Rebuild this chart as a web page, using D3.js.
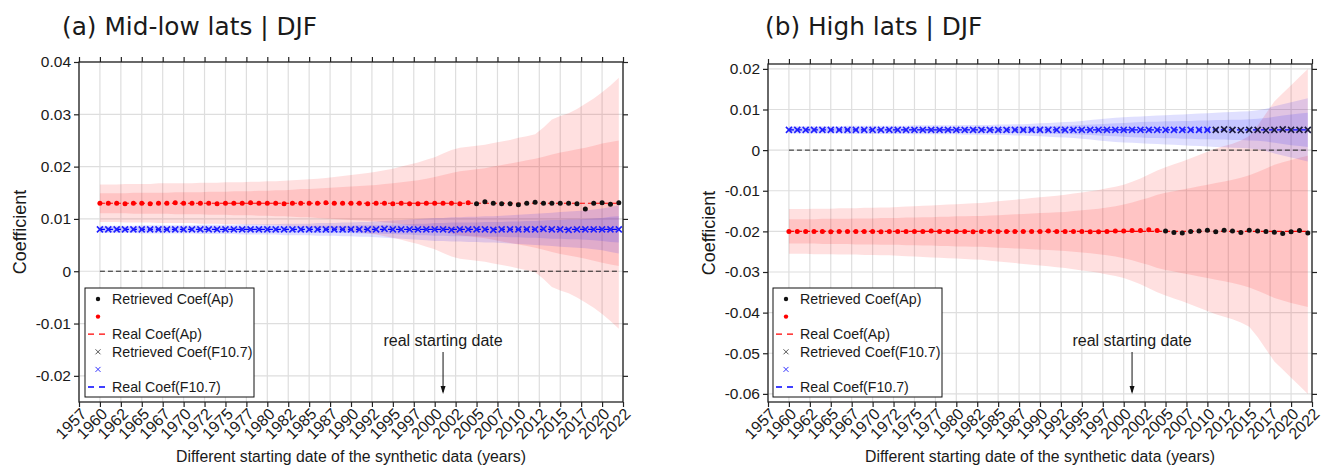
<!DOCTYPE html>
<html>
<head>
<meta charset="utf-8">
<script src="https://cdn.jsdelivr.net/npm/d3@7"></script>
<style>
body { margin: 0; background: #fff; }
text { font-family: "Liberation Sans", Arial, sans-serif; fill: #1a1a1a; }
</style>
</head>
<body>
<script>
var w = 1330, h = 476;

// starting years of the synthetic data
var years = [1960,1961,1962,1963,1964,1965,1966,1967,1968,1969,
  1970,1971,1972,1973,1974,1975,1976,1977,1978,1979,
  1980,1981,1982,1983,1984,1985,1986,1987,1988,1989,
  1990,1991,1992,1993,1994,1995,1996,1997,1998,1999,
  2000,2001,2002,2003,2004,2005,2006,2007,2008,2009,
  2010,2011,2012,2013,2014,2015,2016,2017,2018,2019,
  2020,2021,2022];

var xTicks = [1957.5,1960,1962.5,1965,1967.5,1970,1972.5,1975,1977.5,1980,1982.5,1985,1987.5,
  1990,1992.5,1995,1997.5,2000,2002.5,2005,2007.5,2010,2012.5,2015,2017.5,2020,2022.5];
var xTickLabels = ["1957","1960","1962","1965","1967","1970","1972","1975","1977","1980","1982","1985","1987",
  "1990","1992","1995","1997","2000","2002","2005","2007","2010","2012","2015","2017","2020","2022"];

var realStart = 2001;

// ---- (a) mid-low lats ----
var midTicks = [-0.02,-0.01,0,0.01,0.02,0.03,0.04];
var midTickLabels = ["-0.02","-0.01","0","0.01","0.02","0.03","0.04"];
var midRealAp = 0.013, midRealF107 = 0.008;
var midApBlackFrom = 2005, midF107BlackFrom = 2100;

var midApRet = [.0130,.0130,.0130,.0129,.0130,.0130,.0129,.0130,.0130,.0131,
  .0130,.0130,.0130,.0130,.0129,.0130,.0130,.0130,.0131,.0130,
  .0130,.0130,.0129,.0130,.0130,.0130,.0130,.0131,.0130,.0130,
  .0130,.0130,.0129,.0130,.0130,.0129,.0130,.0129,.0129,.0130,
  .0130,.0130,.0130,.0129,.0131,.0129,.0133,.0130,.0129,.0129,
  .0127,.0130,.0132,.0130,.0130,.0130,.0130,.0129,.0119,.0130,
  .0131,.0128,.0131];
var midF107Ret = [.0080,.0080,.0080,.0080,.0080,.0080,.0080,.0080,.0080,.0080,
  .0080,.0080,.0080,.0080,.0080,.0080,.0080,.0080,.0080,.0080,
  .0080,.0080,.0080,.0080,.0080,.0080,.0080,.0080,.0080,.0080,
  .0080,.0080,.0080,.0080,.0081,.0080,.0080,.0080,.0080,.0080,
  .0080,.0080,.0079,.0080,.0080,.0080,.0080,.0079,.0080,.0080,
  .0080,.0080,.0080,.0081,.0080,.0080,.0079,.0080,.0080,.0080,
  .0080,.0080,.0080];
var midApOuter = [.0036,.0036,.0036,.0037,.0037,.0037,.0037,.0038,.0038,.0038,
  .0038,.0038,.0039,.0039,.0039,.0040,.0040,.0040,.0041,.0041,
  .0042,.0042,.0043,.0044,.0045,.0046,.0047,.0048,.0050,.0052,
  .0054,.0056,.0058,.0060,.0063,.0066,.0070,.0074,.0078,.0083,
  .0088,.0095,.0102,.0106,.0108,.0110,.0112,.0115,.0118,.0121,
  .0125,.0128,.0132,.0145,.0160,.0167,.0172,.0180,.0190,.0200,
  .0212,.0225,.0240];
var midApInner = [.0019,.0019,.0019,.0019,.0020,.0020,.0020,.0020,.0020,.0021,
  .0021,.0021,.0021,.0022,.0022,.0022,.0023,.0023,.0023,.0024,
  .0024,.0025,.0025,.0026,.0027,.0027,.0028,.0029,.0030,.0031,
  .0032,.0033,.0034,.0035,.0037,.0038,.0040,.0042,.0044,.0047,
  .0050,.0054,.0058,.0061,.0063,.0065,.0067,.0070,.0073,.0076,
  .0079,.0082,.0085,.0089,.0093,.0097,.0100,.0103,.0106,.0110,
  .0114,.0117,.0120];
var midF107Outer = [.0007,.0007,.0007,.0007,.0007,.0008,.0008,.0008,.0008,.0008,
  .0008,.0008,.0009,.0009,.0009,.0009,.0009,.0010,.0010,.0010,
  .0010,.0010,.0011,.0011,.0011,.0011,.0012,.0012,.0012,.0013,
  .0013,.0014,.0014,.0015,.0016,.0017,.0018,.0019,.0020,.0021,
  .0022,.0022,.0023,.0023,.0024,.0024,.0025,.0025,.0026,.0027,
  .0028,.0029,.0030,.0031,.0032,.0033,.0034,.0035,.0036,.0038,
  .0040,.0043,.0046];
var midF107Inner = [.0004,.0004,.0004,.0004,.0004,.0004,.0004,.0004,.0004,.0005,
  .0005,.0005,.0005,.0005,.0005,.0005,.0005,.0005,.0005,.0006,
  .0006,.0006,.0006,.0006,.0006,.0006,.0007,.0007,.0007,.0007,
  .0007,.0008,.0008,.0008,.0009,.0009,.0010,.0010,.0011,.0011,
  .0012,.0012,.0013,.0013,.0013,.0013,.0014,.0014,.0014,.0015,
  .0015,.0016,.0016,.0017,.0018,.0018,.0019,.0019,.0020,.0021,
  .0022,.0024,.0025];

// ---- (b) high lats ----
var highTicks = [-0.06,-0.05,-0.04,-0.03,-0.02,-0.01,0,0.01,0.02];
var highTickLabels = ["-0.06","-0.05","-0.04","-0.03","-0.02","-0.01","0","0.01","0.02"];
var highRealAp = -0.020, highRealF107 = 0.005;
var highApBlackFrom = 2005, highF107BlackFrom = 2011;

var highApRet = [-.0200,-.0200,-.0200,-.0200,-.0200,-.0201,-.0200,-.0200,-.0200,-.0200,
  -.0200,-.0201,-.0200,-.0200,-.0200,-.0200,-.0200,-.0199,-.0200,-.0200,
  -.0200,-.0200,-.0201,-.0200,-.0200,-.0200,-.0200,-.0200,-.0200,-.0200,
  -.0200,-.0199,-.0200,-.0200,-.0200,-.0200,-.0201,-.0201,-.0200,-.0199,
  -.0199,-.0198,-.0198,-.0196,-.0198,-.0199,-.0203,-.0204,-.0200,-.0199,
  -.0197,-.0201,-.0197,-.0199,-.0203,-.0197,-.0199,-.0200,-.0202,-.0205,
  -.0201,-.0198,-.0204];
var highF107Ret = [.0050,.0050,.0050,.0050,.0050,.0050,.0050,.0050,.0050,.0050,
  .0050,.0050,.0050,.0050,.0050,.0050,.0050,.0050,.0050,.0050,
  .0050,.0050,.0050,.0050,.0050,.0050,.0050,.0050,.0050,.0050,
  .0050,.0050,.0050,.0050,.0050,.0050,.0050,.0050,.0050,.0050,
  .0050,.0050,.0050,.0050,.0050,.0050,.0050,.0050,.0050,.0050,
  .0050,.0050,.0051,.0050,.0049,.0050,.0050,.0049,.0050,.0051,
  .0050,.0050,.0050];
var highApOuter = [.0055,.0055,.0055,.0056,.0056,.0056,.0057,.0057,.0057,.0058,
  .0058,.0059,.0059,.0060,.0061,.0062,.0063,.0064,.0065,.0066,
  .0067,.0068,.0069,.0070,.0072,.0074,.0076,.0078,.0080,.0082,
  .0084,.0086,.0088,.0090,.0093,.0096,.0099,.0102,.0106,.0110,
  .0115,.0122,.0130,.0140,.0150,.0158,.0165,.0172,.0180,.0188,
  .0196,.0204,.0210,.0216,.0224,.0235,.0260,.0290,.0320,.0340,
  .0360,.0380,.0400];
var highApInner = [.0030,.0030,.0030,.0030,.0031,.0031,.0031,.0031,.0032,.0032,
  .0032,.0033,.0033,.0033,.0034,.0034,.0035,.0035,.0036,.0036,
  .0037,.0037,.0038,.0038,.0039,.0040,.0041,.0042,.0043,.0044,
  .0045,.0046,.0047,.0048,.0050,.0052,.0054,.0056,.0059,.0062,
  .0066,.0071,.0077,.0083,.0090,.0095,.0099,.0103,.0107,.0111,
  .0115,.0119,.0123,.0127,.0132,.0138,.0146,.0155,.0164,.0170,
  .0176,.0181,.0186];
var highF107Outer = [.0009,.0009,.0009,.0009,.0009,.0009,.0009,.0010,.0010,.0010,
  .0010,.0010,.0010,.0010,.0010,.0011,.0011,.0011,.0011,.0011,
  .0011,.0012,.0012,.0012,.0012,.0013,.0013,.0014,.0014,.0015,
  .0016,.0017,.0018,.0019,.0020,.0022,.0024,.0026,.0028,.0030,
  .0031,.0032,.0033,.0034,.0035,.0036,.0037,.0038,.0039,.0040,
  .0041,.0042,.0043,.0044,.0045,.0046,.0048,.0052,.0058,.0063,
  .0068,.0073,.0078];
var highF107Inner = [.0005,.0005,.0005,.0005,.0005,.0005,.0005,.0005,.0005,.0005,
  .0005,.0005,.0006,.0006,.0006,.0006,.0006,.0006,.0006,.0006,
  .0006,.0007,.0007,.0007,.0007,.0007,.0007,.0008,.0008,.0008,
  .0009,.0009,.0010,.0010,.0011,.0012,.0013,.0014,.0015,.0016,
  .0017,.0018,.0019,.0020,.0020,.0021,.0021,.0022,.0022,.0023,
  .0023,.0024,.0024,.0025,.0025,.0026,.0027,.0029,.0032,.0035,
  .0038,.0040,.0042];

const svg = d3.select("body").append("svg").attr("width", w).attr("height", h);

function drawPanel(p) {
  var g = svg.append("g");
  var x = d3.scaleLinear().domain([1957.5, 2022.5]).range([p.left, p.right]);
  var y = d3.scaleLinear().domain(p.yDomain).range([p.bottom, p.top]);

  // grid
  g.append("g").selectAll("line").data(xTicks).enter().append("line")
    .attr("x1", d => x(d)).attr("x2", d => x(d)).attr("y1", p.top).attr("y2", p.bottom)
    .attr("stroke", "#dedede").attr("stroke-width", 1.2);
  g.append("g").selectAll("line").data(p.yTicks).enter().append("line")
    .attr("x1", p.left).attr("x2", p.right).attr("y1", d => y(d)).attr("y2", d => y(d))
    .attr("stroke", "#dedede").attr("stroke-width", 1.2);

  // uncertainty bands
  function band(real, hw, color) {
    var area = d3.area().x((d, i) => x(years[i]))
      .y0((d, i) => y(real - hw[i])).y1((d, i) => y(real + hw[i]));
    g.append("path").datum(hw).attr("d", area).attr("fill", color).attr("fill-opacity", 0.12);
  }
  band(p.realAp, p.apOuter, "#ff0000");
  band(p.realAp, p.apInner, "#ff0000");
  band(p.realF107, p.f107Outer, "#0000ff");
  band(p.realF107, p.f107Inner, "#0000ff");

  // zero line
  g.append("line").attr("x1", x(years[0])).attr("x2", x(years[years.length - 1]))
    .attr("y1", y(0)).attr("y2", y(0))
    .attr("stroke", "#222").attr("stroke-width", 1).attr("stroke-dasharray", "5,3");

  // real coefficients
  g.append("line").attr("x1", x(years[0])).attr("x2", x(years[years.length - 1]))
    .attr("y1", y(p.realAp)).attr("y2", y(p.realAp))
    .attr("stroke", "#ff0000").attr("stroke-width", 1.2).attr("stroke-dasharray", "5,3");
  g.append("line").attr("x1", x(years[0])).attr("x2", x(years[years.length - 1]))
    .attr("y1", y(p.realF107)).attr("y2", y(p.realF107))
    .attr("stroke", "#0000ff").attr("stroke-width", 1.2).attr("stroke-dasharray", "5,3");

  // retrieved coefficients
  g.append("g").selectAll("circle").data(p.apRet).enter().append("circle")
    .attr("cx", (d, i) => x(years[i])).attr("cy", d => y(d)).attr("r", 2.5)
    .attr("fill", (d, i) => years[i] >= p.apBlackFrom ? "#111" : "#ff0000");
  g.append("g").selectAll("path").data(p.f107Ret).enter().append("path")
    .attr("transform", (d, i) => "translate(" + x(years[i]) + "," + y(d) + ")")
    .attr("d", "M-3,-3L3,3M-3,3L3,-3")
    .attr("stroke", (d, i) => years[i] >= p.f107BlackFrom ? "#1a1a40" : "#2020ff")
    .attr("stroke-width", 1.6).attr("fill", "none");

  // annotation
  var ax = x(realStart);
  g.append("text").attr("x", ax).attr("y", 346).attr("text-anchor", "middle")
    .style("font-size", "16px").text("real starting date");
  g.append("line").attr("x1", ax).attr("x2", ax).attr("y1", 352).attr("y2", 392)
    .attr("stroke", "#111").attr("stroke-width", 1);
  g.append("path").attr("d", "M" + (ax - 2.5) + ",386L" + ax + ",394L" + (ax + 2.5) + ",386Z")
    .attr("fill", "#111");

  // legend
  var lg = g.append("g").attr("transform", "translate(" + p.legendX + ",288)");
  lg.append("rect").attr("width", 169).attr("height", 109)
    .attr("fill", "#fff").attr("stroke", "#111").attr("stroke-width", 1);
  var rows = [
    {type: "dot", color: "#111", label: "Retrieved Coef(Ap)"},
    {type: "dot", color: "#ff0000", label: ""},
    {type: "dash", color: "#ff0000", label: "Real Coef(Ap)"},
    {type: "cross", color: "#555", label: "Retrieved Coef(F10.7)"},
    {type: "cross", color: "#3333ff", label: ""},
    {type: "dash", color: "#0000ff", label: "Real Coef(F10.7)"}
  ];
  rows.forEach(function (r, i) {
    var ry = 11 + i * 17.6;
    if (r.type == "dot") lg.append("circle").attr("cx", 13).attr("cy", ry).attr("r", 2.2).attr("fill", r.color);
    if (r.type == "cross") lg.append("path").attr("d", "M10.5," + (ry - 2.5) + "l5,5M10.5," + (ry + 2.5) + "l5,-5")
      .attr("stroke", r.color).attr("stroke-width", 1).attr("fill", "none");
    if (r.type == "dash") lg.append("line").attr("x1", 3).attr("x2", 23).attr("y1", ry).attr("y2", ry)
      .attr("stroke", r.color).attr("stroke-width", 1.3).attr("stroke-dasharray", "6,5");
    lg.append("text").attr("x", 27).attr("y", ry + 5).style("font-size", "14.2px").text(r.label);
  });

  // axes
  var xb = d3.axisBottom(x).tickValues(xTicks).tickFormat((d, i) => xTickLabels[i]).tickSize(5).tickSizeOuter(0);
  var xt = d3.axisTop(x).tickValues(xTicks).tickFormat("").tickSize(5).tickSizeOuter(0);
  var yl = d3.axisLeft(y).tickValues(p.yTicks).tickFormat((d, i) => p.yTickLabels[i]).tickSize(5).tickSizeOuter(0);
  var yr = d3.axisRight(y).tickValues(p.yTicks).tickFormat("").tickSize(5).tickSizeOuter(0);

  var gb = g.append("g").attr("transform", "translate(0," + p.bottom + ")").call(xb);
  gb.selectAll("text").attr("text-anchor", "end").attr("dx", null).attr("dy", "0.35em")
    .attr("transform", "translate(4,9) rotate(-45)").attr("y", 0).attr("x", 0)
    .style("font-size", "16px");
  g.append("g").attr("transform", "translate(0," + p.top + ")").call(xt);
  var gl = g.append("g").attr("transform", "translate(" + p.left + ",0)").call(yl);
  gl.selectAll("text").style("font-size", "15.5px").attr("x", -8);
  g.append("g").attr("transform", "translate(" + p.right + ",0)").call(yr);
  g.selectAll(".domain").remove();
  g.selectAll(".tick line").attr("stroke", "#222").attr("stroke-width", 1.2);
  g.selectAll(".tick text").attr("fill", "#1a1a1a").style("font-family", "'Liberation Sans', Arial, sans-serif");

  g.append("rect").attr("x", p.left).attr("y", p.top).attr("width", p.right - p.left).attr("height", p.bottom - p.top)
    .attr("fill", "none").attr("stroke", "#222").attr("stroke-width", 1.3);

  // labels
  g.append("text").attr("transform", "translate(" + (p.left - 53) + "," + ((p.top + p.bottom) / 2) + ") rotate(-90)")
    .attr("text-anchor", "middle").style("font-size", "18px").text("Coefficient");
  g.append("text").attr("x", (p.left + p.right) / 2).attr("y", 462).attr("text-anchor", "middle")
    .style("font-size", "15.8px").text("Different starting date of the synthetic data (years)");
  g.append("text").attr("x", p.titleX).attr("y", 35).style("font-family", "'DejaVu Sans', sans-serif")
    .style("font-size", "24.8px").text(p.title);
}

drawPanel({
  left: 79, right: 623, top: 62, bottom: 402, yDomain: [-0.025, 0.04],
  yTicks: midTicks, yTickLabels: midTickLabels,
  realAp: midRealAp, realF107: midRealF107,
  apRet: midApRet, f107Ret: midF107Ret,
  apOuter: midApOuter, apInner: midApInner, f107Outer: midF107Outer, f107Inner: midF107Inner,
  apBlackFrom: midApBlackFrom, f107BlackFrom: midF107BlackFrom,
  legendX: 85, titleX: 62, title: "(a) Mid-low lats | DJF"
});
drawPanel({
  left: 768, right: 1312, top: 64, bottom: 402, yDomain: [-0.062, 0.0212],
  yTicks: highTicks, yTickLabels: highTickLabels,
  realAp: highRealAp, realF107: highRealF107,
  apRet: highApRet, f107Ret: highF107Ret,
  apOuter: highApOuter, apInner: highApInner, f107Outer: highF107Outer, f107Inner: highF107Inner,
  apBlackFrom: highApBlackFrom, f107BlackFrom: highF107BlackFrom,
  legendX: 773, titleX: 765, title: "(b) High lats | DJF"
});
</script>
</body>
</html>
